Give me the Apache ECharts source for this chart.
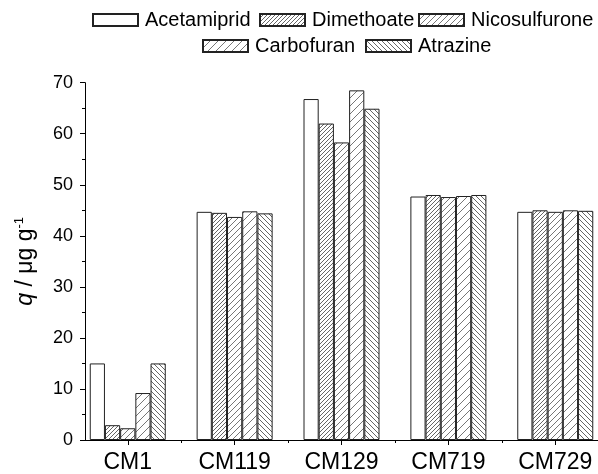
<!DOCTYPE html>
<html>
<head>
<meta charset="utf-8">
<script src="https://cdn.jsdelivr.net/npm/echarts@6/dist/echarts.min.js"></script>
<style>
  html, body { margin: 0; padding: 0; background: #fff; }
  #chart { width: 598px; height: 474px; }
</style>
</head>
<body>
<div id="chart"></div>
<script>
// Adsorbed amount q (µg/g) of each pesticide on the sorbents
const categories = ['CM1', 'CM119', 'CM129', 'CM719', 'CM729'];
const seriesNames = ['Acetamiprid', 'Dimethoate', 'Nicosulfurone', 'Carbofuran', 'Atrazine'];
const acetamiprid   = [15.0, 44.7, 66.8, 47.7, 44.7];
const dimethoate    = [2.9, 44.5, 62.0, 48.0, 45.0];
const nicosulfurone = [2.3, 43.7, 58.3, 47.6, 44.7];
const carbofuran    = [9.2, 44.8, 68.5, 47.8, 45.0];
const atrazine      = [15.0, 44.4, 64.9, 48.0, 44.9];
const yTicks = [0, 10, 20, 30, 40, 50, 60, 70];

const FONT = '"Liberation Sans", Arial, sans-serif';

// Diagonal hatch tile: dir 1 = '/', dir -1 = '\'
function hatch(step, dir, color) {
  const c = document.createElement('canvas');
  c.width = c.height = step;
  const g = c.getContext('2d');
  g.fillStyle = '#fff';
  g.fillRect(0, 0, step, step);
  g.strokeStyle = color;
  g.lineWidth = 1;
  g.beginPath();
  if (dir > 0) {
    g.moveTo(-1, step + 1); g.lineTo(step + 1, -1);
    g.moveTo(-1, 1); g.lineTo(1, -1);
    g.moveTo(step - 1, step + 1); g.lineTo(step + 1, step - 1);
  } else {
    g.moveTo(-1, -1); g.lineTo(step + 1, step + 1);
    g.moveTo(step - 1, -1); g.lineTo(step + 1, 1);
    g.moveTo(-1, step - 1); g.lineTo(1, step + 1);
  }
  g.stroke();
  return { image: c, repeat: 'repeat' };
}

const fills = [
  '#ffffff',
  hatch(4, 1, '#666'),
  hatch(6, 1, '#777'),
  hatch(8, 1, '#777'),
  hatch(5, -1, '#666')
];
const values = [acetamiprid, dimethoate, nicosulfurone, carbofuran, atrazine];

const legendPos = [
  { left: 92, top: 9 },
  { left: 259, top: 9 },
  { left: 418, top: 9 },
  { left: 202, top: 35 },
  { left: 365, top: 35 }
];

const chart = echarts.init(document.getElementById('chart'));
chart.setOption({
  backgroundColor: '#fff',
  animation: false,
  legend: seriesNames.map((n, i) => ({
    data: [{ name: n, icon: 'rect' }],
    left: legendPos[i].left,
    top: legendPos[i].top + 1,
    padding: 0,
    itemWidth: 45,
    itemHeight: 12,
    itemGap: 0,
    textStyle: { fontFamily: FONT, fontSize: 20, color: '#000', lineHeight: 20, padding: [0, 0, 0, 2] }
  })),
  grid: { left: 85, top: 82.7, width: 517, bottom: 32.3 },
  xAxis: [
    {
      type: 'value', min: 0.6, max: 5.4,
      axisLine: { show: true, lineStyle: { color: '#000', width: 1 } },
      splitLine: { show: false },
      axisTick: { show: true, customValues: [1, 2, 3, 4, 5], length: 5, lineStyle: { color: '#000' } },
      axisLabel: {
        customValues: [1, 2, 3, 4, 5],
        formatter: v => categories[Math.round(v) - 1] || '',
        fontFamily: FONT, fontSize: 23, color: '#000', margin: 11
      }
    },
    {
      type: 'value', min: 0.6, max: 5.4, position: 'bottom',
      axisLine: { show: false },
      splitLine: { show: false },
      axisTick: { show: true, customValues: [1.5, 2.5, 3.5, 4.5], length: 3, lineStyle: { color: '#000' } },
      axisLabel: { show: false }
    }
  ],
  yAxis: {
    type: 'value', min: 0, max: 70, interval: 10,
    axisLine: { show: true, lineStyle: { color: '#000', width: 1 } },
    splitLine: { show: false },
    axisTick: { show: true, length: 5, lineStyle: { color: '#000' } },
    minorTick: { show: true, splitNumber: 2, length: 3, lineStyle: { color: '#000' } },
    axisLabel: {
      customValues: yTicks,
      fontFamily: FONT, fontSize: 18, color: '#000', margin: 12
    },
    name: '{i|q} / μg g{sup|-1}',
    nameLocation: 'middle',
    nameRotate: 90,
    nameGap: 47,
    nameTextStyle: {
      fontFamily: FONT, fontSize: 23, color: '#000',
      rich: {
        i: { fontFamily: FONT, fontSize: 23, fontStyle: 'italic', color: '#000' },
        sup: { fontFamily: FONT, fontSize: 13, color: '#000', verticalAlign: 'top', padding: [0, 0, 12, 0] }
      }
    }
  },
  series: seriesNames.map((n, i) => ({
    name: n,
    type: 'bar',
    xAxisIndex: 0,
    barWidth: 15.2,
    barGap: '0%',
    itemStyle: { color: fills[i], borderColor: '#222', borderWidth: 1 },
    data: values[i].map((v, k) => [k + 1, v])
  }))
});
</script>
</body>
</html>
